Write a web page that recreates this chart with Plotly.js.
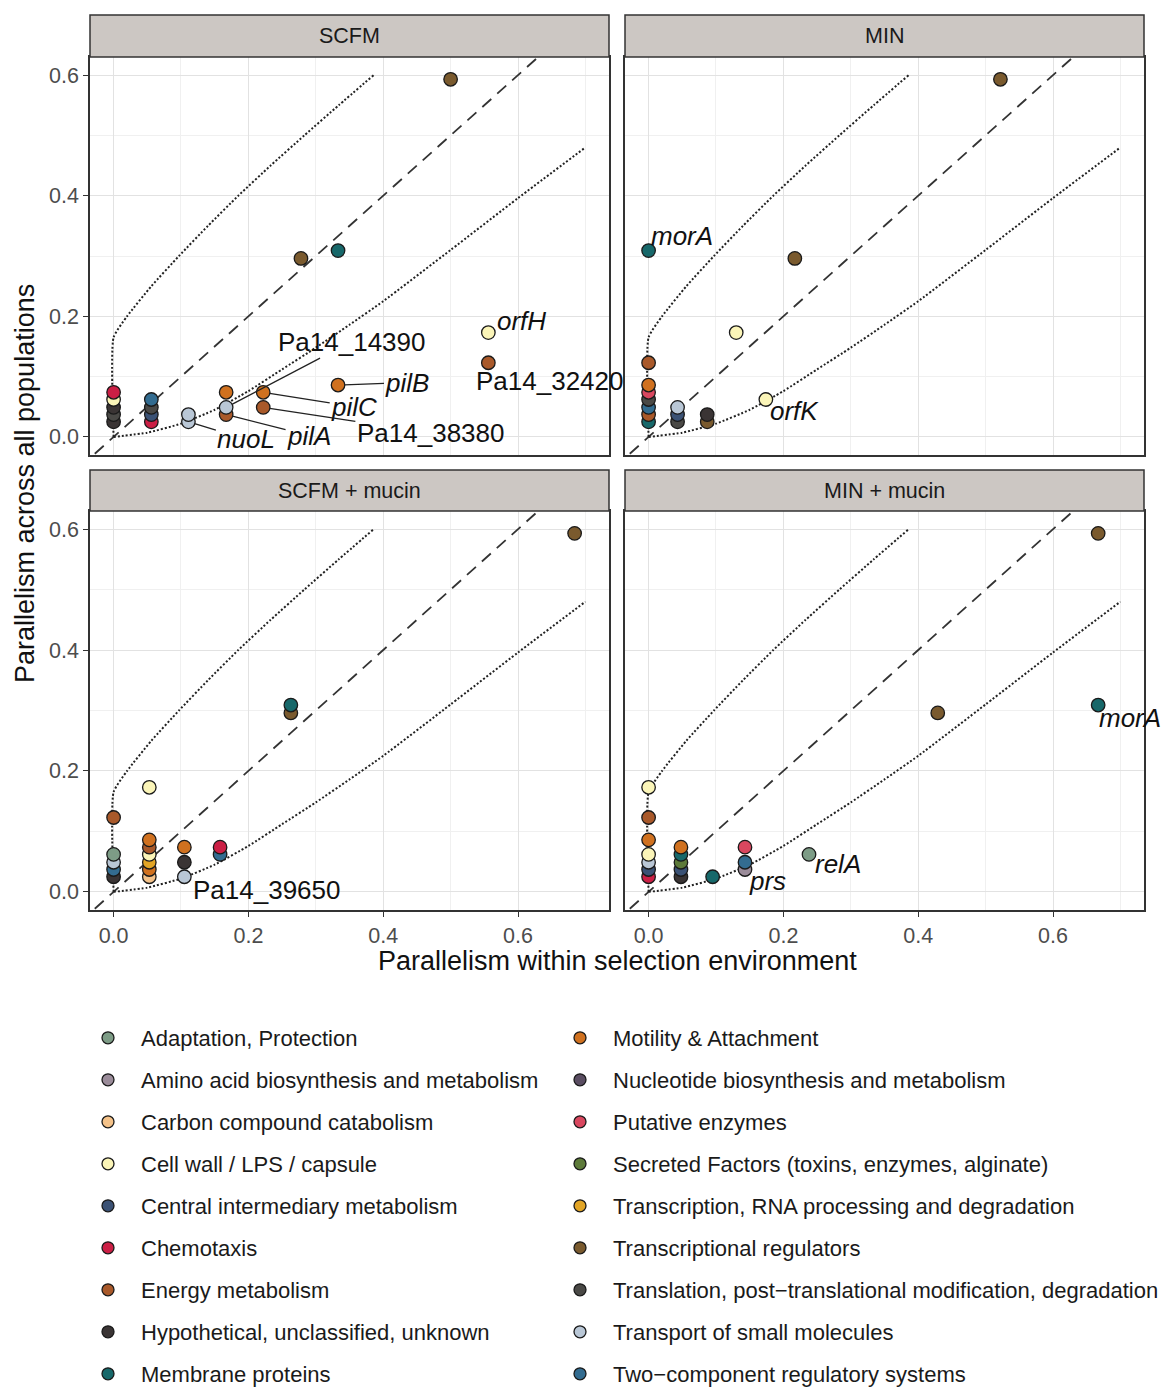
<!DOCTYPE html>
<html><head><meta charset="utf-8">
<script src="https://cdn.plot.ly/plotly-3.0.1.min.js"></script>
<style>body{margin:0;background:#fff}#chart{width:1161px;height:1390px}</style>
</head><body><div id="chart"></div>
<script>
// ---------- categories ----------
const categoryKeys = ['ADP','AMI','CAR','CEL','CIM','CHE','ENE','HYP','MEM','MOT','NUC','PUT','SEC','TRC','TRR','TRL','TSP','TCS'];
const categoryNames = [
  'Adaptation, Protection',
  'Amino acid biosynthesis and metabolism',
  'Carbon compound catabolism',
  'Cell wall / LPS / capsule',
  'Central intermediary metabolism',
  'Chemotaxis',
  'Energy metabolism',
  'Hypothetical, unclassified, unknown',
  'Membrane proteins',
  'Motility & Attachment',
  'Nucleotide biosynthesis and metabolism',
  'Putative enzymes',
  'Secreted Factors (toxins, enzymes, alginate)',
  'Transcription, RNA processing and degradation',
  'Transcriptional regulators',
  'Translation, post\u2212translational modification, degradation',
  'Transport of small molecules',
  'Two\u2212component regulatory systems'
];
const categoryColors = ['#7d9c86','#9b8c9a','#f4c289','#fbf5b8','#3b5275','#cc1f45','#a9592a','#3a3434','#17686a','#d0711f','#5a4d62','#d9475f','#5d7a3a','#e2a526','#7a5a2e','#4a4946','#b9c7d6','#336c90'];

// ---------- panels ----------
const panelNames = ['SCFM','MIN','SCFM + mucin','MIN + mucin'];

const scfmX   = [0,0,0,0,0, 0.056,0.056,0.056,0.056, 0.111,0.111, 0.167,0.167,0.167, 0.222,0.222, 0.278,0.333,0.333,0.556,0.556,0.5];
const scfmY   = [0.025,0.037,0.049,0.062,0.074, 0.025,0.037,0.049,0.062, 0.025,0.037, 0.037,0.049,0.074, 0.049,0.074, 0.296,0.309,0.086,0.123,0.173,0.593];
const scfmCat = ['HYP','TRL','HYP','CEL','CHE', 'CHE','CIM','TRL','TCS', 'TSP','TSP', 'ENE','TSP','MOT', 'ENE','MOT', 'TRR','MEM','MOT','ENE','CEL','TRR'];

const minX   = [0,0,0,0,0,0,0,0, 0.043,0.043,0.043, 0.087,0.087, 0.130,0.174,0.217,0.522];
const minY   = [0.025,0.037,0.049,0.062,0.074,0.086,0.123,0.309, 0.025,0.037,0.049, 0.025,0.037, 0.173,0.062,0.296,0.593];
const minCat = ['MEM','ENE','TCS','TRL','PUT','MOT','ENE','MEM', 'TRL','CIM','TSP', 'TRR','HYP', 'CEL','CEL','TRR','TRR'];

const scfmMucX   = [0,0,0,0,0, 0.053,0.053,0.053,0.053,0.053,0.053,0.053, 0.105,0.105,0.105, 0.158,0.158, 0.263,0.263,0.684];
const scfmMucY   = [0.025,0.037,0.049,0.062,0.123, 0.025,0.037,0.049,0.062,0.074,0.086,0.173, 0.025,0.049,0.074, 0.062,0.074, 0.296,0.309,0.593];
const scfmMucCat = ['HYP','TCS','TSP','ADP','ENE', 'CAR','MOT','TRC','CEL','ENE','MOT','CEL', 'TSP','HYP','MOT', 'TCS','CHE', 'TRR','MEM','TRR'];

const minMucX   = [0,0,0,0,0,0,0, 0.048,0.048,0.048,0.048,0.048, 0.095,0.143,0.143,0.143,0.238,0.429,0.667,0.667];
const minMucY   = [0.025,0.037,0.049,0.062,0.086,0.123,0.173, 0.025,0.037,0.049,0.062,0.074, 0.025,0.037,0.049,0.074,0.062,0.296,0.309,0.593];
const minMucCat = ['CHE','CIM','TSP','CEL','MOT','ENE','CEL', 'HYP','CIM','SEC','MEM','MOT', 'MEM','AMI','TCS','PUT','ADP','TRR','MEM','TRR'];

// reference curves
const upperBoundX = [0,0,0.02,0.056,0.097,0.14,0.185,0.233,0.283,0.334,0.386];
const upperBoundY = [0,0.165,0.2,0.25,0.3,0.35,0.4,0.45,0.5,0.55,0.6];
const lowerBoundX = [0,0.05,0.1,0.15,0.2,0.25,0.3,0.35,0.4,0.5,0.6,0.7];
const lowerBoundY = [0,0.007,0.022,0.045,0.076,0.112,0.148,0.186,0.225,0.31,0.396,0.48];
const identityLine = [-0.05, 0.75];

// gene labels: panel index, text, point x, point y
const labelPanel = [0,0,0,0,0,0,0,0, 1,1, 2, 3,3,3];
const labelText  = ['Pa14_14390','pilB','pilC','pilA','Pa14_38380','nuoL','orfH','Pa14_32420', 'morA','orfK', 'Pa14_39650', 'morA','relA','prs'];
const labelPtX   = [0.167,0.333,0.222,0.167,0.222,0.111,0.556,0.556, 0,0.174, 0.105, 0.667,0.238,0.143];
const labelPtY   = [0.049,0.086,0.074,0.037,0.049,0.025,0.173,0.123, 0.309,0.062, 0.025, 0.309,0.062,0.037];
const labelItalic = [false,true,true,true,false,true,true,false, true,true, false, true,true,true];

// ---------- layout helpers (positions / styles) ----------
const W = 1161, H = 1390;
const fx = v => v / W, fy = v => 1 - v / H;
const cols = [[90,609],[625,1144]];
const rows = [[57,455],[511,910]];
const strips = [[15,57],[470,511]];
const FONT = 'Liberation Sans, Arial, Helvetica, sans-serif';
const xRange = [-0.035, 0.735], yRange = [-0.03, 0.63];

// label text placement (layout, in data units) and whether a segment is drawn
const labelPos = [
  {tx:0.353, ty:0.158, seg:true},
  {tx:0.436, ty:0.090, seg:true},
  {tx:0.357, ty:0.050, seg:true},
  {tx:0.290, ty:0.002, seg:true},
  {tx:0.470, ty:0.007, seg:true},
  {tx:0.197, ty:-0.004, seg:true},
  {tx:0.605, ty:0.192, seg:false},
  {tx:0.646, ty:0.093, seg:false},
  {tx:0.050, ty:0.333, seg:false},
  {tx:0.216, ty:0.043, seg:false},
  {tx:0.227, ty:0.003, seg:false},
  {tx:0.714, ty:0.287, seg:false},
  {tx:0.281, ty:0.046, seg:false},
  {tx:0.176, ty:0.018, seg:false}
];

const panelData = [
  [scfmX, scfmY, scfmCat],
  [minX, minY, minCat],
  [scfmMucX, scfmMucY, scfmMucCat],
  [minMucX, minMucY, minMucCat]
];
const colorOf = k => categoryColors[categoryKeys.indexOf(k)];
const nameOf = k => categoryNames[categoryKeys.indexOf(k)];

const traces = [];
const layout = {
  width: W, height: H,
  margin: {l:0, r:0, t:0, b:0, autoexpand: false},
  paper_bgcolor: '#fff', plot_bgcolor: '#fff',
  font: {family: FONT, color: '#1a1a1a'},
  showlegend: true,
  shapes: [], annotations: []
};

panelData.forEach((pd, i) => {
  const c = i % 2, r = Math.floor(i / 2);
  const sfx = i === 0 ? '' : String(i + 1);
  const xa = 'x' + sfx, ya = 'y' + sfx;
  const axBase = {
    showgrid: true, gridcolor: '#e2e2e2', gridwidth: 1,
    minor: {dtick: 0.1, showgrid: true, gridcolor: '#f0f0f0', gridwidth: 1},
    zeroline: false, showline: true, mirror: true, linecolor: '#333', linewidth: 1.5,
    dtick: 0.2, tick0: 0, tickformat: '.1f',
    ticklen: 5, tickwidth: 1.2, tickcolor: '#333',
    tickfont: {size: 21.5, color: '#4d4d4d', family: FONT},
    fixedrange: true
  };
  layout['xaxis' + sfx] = Object.assign({}, axBase, {
    domain: [fx(cols[c][0]), fx(cols[c][1])], range: xRange, anchor: ya,
    showticklabels: r === 1, ticks: r === 1 ? 'outside' : ''
  });
  layout['yaxis' + sfx] = Object.assign({}, axBase, {
    domain: [fy(rows[r][1]), fy(rows[r][0])], range: yRange, anchor: xa,
    showticklabels: c === 0, ticks: c === 0 ? 'outside' : ''
  });

  traces.push({x: identityLine, y: identityLine, xaxis: xa, yaxis: ya, mode: 'lines',
    line: {color: '#333', width: 1.8, dash: '12px,8px'}, showlegend: false, hoverinfo: 'skip'});
  traces.push({x: upperBoundX, y: upperBoundY, xaxis: xa, yaxis: ya, mode: 'lines',
    line: {color: '#222', width: 2, dash: '2px,2px', shape: 'spline', smoothing: 0.5}, showlegend: false, hoverinfo: 'skip'});
  traces.push({x: lowerBoundX, y: lowerBoundY, xaxis: xa, yaxis: ya, mode: 'lines',
    line: {color: '#222', width: 2, dash: '2px,2px', shape: 'spline', smoothing: 0.5}, showlegend: false, hoverinfo: 'skip'});
  traces.push({x: pd[0], y: pd[1], xaxis: xa, yaxis: ya, mode: 'markers',
    text: pd[2].map(nameOf), hoverinfo: 'text',
    marker: {size: 13.5, color: pd[2].map(colorOf), line: {color: '#1a1a1a', width: 1.3}},
    cliponaxis: false, showlegend: false});

  // strip
  layout.shapes.push({type: 'rect', xref: 'paper', yref: 'paper',
    x0: fx(cols[c][0]), x1: fx(cols[c][1]), y0: fy(strips[r][1]), y1: fy(strips[r][0]),
    fillcolor: '#ccc7c3', line: {color: '#333', width: 1.5}, layer: 'above'});
  layout.annotations.push({xref: 'paper', yref: 'paper',
    x: fx((cols[c][0] + cols[c][1]) / 2), y: fy((strips[r][0] + strips[r][1]) / 2),
    text: panelNames[i], showarrow: false, xanchor: 'center', yanchor: 'middle',
    font: {size: 21.5, color: '#1a1a1a', family: FONT}});
});

// gene labels
labelText.forEach((t, j) => {
  const p = labelPanel[j];
  const sfx = p === 0 ? '' : String(p + 1);
  const pos = labelPos[j];
  const txt = labelItalic[j] ? '<i>' + t + '</i>' : t;
  const base = {xref: 'x' + sfx, yref: 'y' + sfx, text: txt,
    font: {size: 26, color: '#111', family: FONT}};
  if (pos.seg) {
    layout.annotations.push(Object.assign(base, {
      x: labelPtX[j], y: labelPtY[j], ax: pos.tx, ay: pos.ty,
      axref: 'x' + sfx, ayref: 'y' + sfx, showarrow: true,
      arrowhead: 0, arrowwidth: 1.3, arrowcolor: '#222', standoff: 6.5}));
  } else {
    layout.annotations.push(Object.assign(base, {
      x: pos.tx, y: pos.ty, showarrow: false, xanchor: 'center', yanchor: 'middle'}));
  }
});

// axis titles
layout.annotations.push({xref: 'paper', yref: 'paper', x: fx(617), y: fy(961),
  text: 'Parallelism within selection environment', showarrow: false,
  xanchor: 'center', yanchor: 'middle', font: {size: 27, color: '#111', family: FONT}});
layout.annotations.push({xref: 'paper', yref: 'paper', x: fx(25), y: fy(484),
  text: 'Parallelism across all populations', showarrow: false, textangle: -90,
  xanchor: 'center', yanchor: 'middle', font: {size: 27, color: '#111', family: FONT}});

// legend entries
categoryNames.forEach((n, k) => {
  traces.push({x: [null], y: [null], xaxis: 'x', yaxis: 'y', mode: 'markers', name: n,
    legendgroup: 'g' + k, legendrank: k,
    legend: k < 9 ? 'legend' : 'legend2',
    marker: {size: 12, color: categoryColors[k], line: {color: '#1a1a1a', width: 1.3}},
    showlegend: true, hoverinfo: 'skip'});
});
const legBase = {xanchor: 'left', yanchor: 'top', y: fy(1017),
  font: {size: 22, color: '#1a1a1a', family: FONT}, itemwidth: 56,
  traceorder: 'grouped', tracegroupgap: 10.4, bgcolor: 'rgba(0,0,0,0)', borderwidth: 0,
  itemclick: false, itemdoubleclick: false};
layout.legend = Object.assign({}, legBase, {x: fx(75)});
layout.legend2 = Object.assign({}, legBase, {x: fx(547)});

Plotly.newPlot('chart', traces, layout, {displayModeBar: false, responsive: false});
</script>
</body></html>
